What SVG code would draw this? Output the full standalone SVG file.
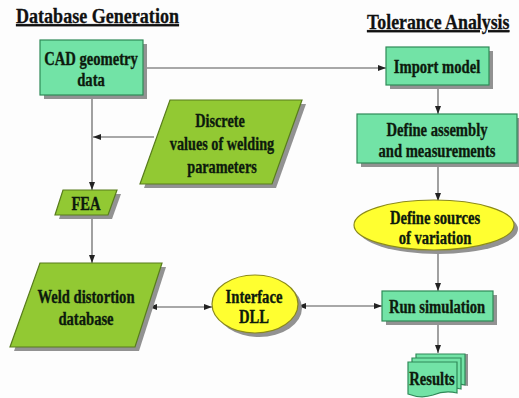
<svg xmlns="http://www.w3.org/2000/svg" width="519" height="398" viewBox="0 0 519 398">
<defs>
<marker id="arr" viewBox="0 0 8 6" refX="8" refY="3" markerWidth="8" markerHeight="6" markerUnits="userSpaceOnUse" orient="auto-start-reverse">
<path d="M0,0 L8,3 L0,6 z" fill="#222"/>
</marker>
<style>
.bg{fill:#fdfdfd}
.sh{fill:#929292;stroke:none}
.mint{fill:#72e3a6;stroke:#2f8a58;stroke-width:1.2}
.lime{fill:#92c933;stroke:#587c1c;stroke-width:1.2}
.yel{fill:#ffff30;stroke:#8b8a1a;stroke-width:1.2}
.t{font-family:'Liberation Serif','DejaVu Serif','Times New Roman',serif;font-weight:700;font-size:19px;fill:#0d1a0d;stroke:#0d1a0d;stroke-width:0.35;text-anchor:middle}
.h{font-family:'Liberation Serif','DejaVu Serif','Times New Roman',serif;font-weight:700;font-size:21px;fill:#111;stroke:#111;stroke-width:0.3;text-decoration:underline}
.c{fill:none;stroke:#555;stroke-width:1.1}
</style>
</defs>
<rect class="bg" x="0" y="0" width="519" height="398"/>

<g id="titles">
<text class="h" transform="translate(16,23) scale(0.86,1)">Database Generation</text>
<text class="h" transform="translate(367,29) scale(0.85,1)">Tolerance Analysis</text>
</g>

<g id="connectors">
<path class="c" d="M143,68 H386" marker-end="url(#arr)"/>
<path class="c" d="M438,85 V114" marker-end="url(#arr)"/>
<path class="c" d="M438,163 V201" marker-end="url(#arr)"/>
<path class="c" d="M438,250 V291" marker-end="url(#arr)"/>
<path class="c" d="M438,321 V353" marker-end="url(#arr)"/>
<path class="c" d="M92,95 V190" marker-end="url(#arr)"/>
<path class="c" d="M154,137 H93" marker-end="url(#arr)"/>
<path class="c" d="M92,215 V263" marker-end="url(#arr)"/>
<path class="c" d="M149,307 H212" marker-start="url(#arr)" marker-end="url(#arr)"/>
<path class="c" d="M298,306 H382" marker-start="url(#arr)" marker-end="url(#arr)"/>
</g>

<g id="cad">
<rect class="sh" x="44" y="44" width="103" height="55"/>
<rect class="mint" x="40" y="40" width="103" height="55"/>
<text class="t" transform="translate(91,65) scale(0.77,1)">CAD geometry</text>
<text class="t" transform="translate(91,86) scale(0.77,1)">data</text>
</g>

<g id="import">
<rect class="sh" x="390" y="51" width="103" height="38"/>
<rect class="mint" x="386" y="47" width="103" height="38"/>
<text class="t" transform="translate(437,73) scale(0.77,1)">Import model</text>
</g>

<g id="assembly">
<rect class="sh" x="361" y="118" width="160" height="49"/>
<rect class="mint" x="357" y="114" width="160" height="49"/>
<text class="t" transform="translate(437,136) scale(0.77,1)">Define  assembly</text>
<text class="t" transform="translate(437,157) scale(0.77,1)">and measurements</text>
</g>

<g id="sources">
<ellipse class="sh" cx="438" cy="229" rx="80" ry="25"/>
<ellipse class="yel" cx="434" cy="225" rx="80" ry="25"/>
<text class="t" transform="translate(435,224) scale(0.77,1)">Define sources</text>
<text class="t" transform="translate(435,244) scale(0.77,1)">of variation</text>
</g>

<g id="run">
<rect class="sh" x="386" y="295" width="111" height="30"/>
<rect class="mint" x="382" y="291" width="111" height="30"/>
<text class="t" transform="translate(437,313) scale(0.77,1)">Run simulation</text>
</g>

<g id="results">
<path class="sh" d="M420,354 H468 V386 Q456,383 444,388 Q432,392 420,387 Z"/>
<path class="mint" d="M416,354 H465 V385 Q453,382 441,387 Q429,391 416,386 Z"/>
<path class="mint" d="M412,358 H461 V389 Q449,386 437,391 Q425,395 412,390 Z"/>
<path class="mint" d="M408,362 H457 V393 Q445,390 433,395 Q421,399 408,394 Z"/>
<text class="t" transform="translate(432,385) scale(0.77,1)">Results</text>
</g>

<g id="discrete">
<polygon class="sh" points="174,104 306,104 276,188 144,188"/>
<polygon class="lime" points="170,100 302,100 272,184 140,184"/>
<text class="t" transform="translate(220,127) scale(0.75,1)">Discrete</text>
<text class="t" transform="translate(222,150) scale(0.75,1)">values of welding</text>
<text class="t" transform="translate(222,173) scale(0.75,1)">parameters</text>
</g>

<g id="fea">
<polygon class="sh" points="67,194 121,194 112,219 59,219"/>
<polygon class="lime" points="63,190 117,190 108,215 55,215"/>
<text class="t" transform="translate(86,210) scale(0.77,1)">FEA</text>
</g>

<g id="weld">
<polygon class="sh" points="44,267 166,267 139,351 14,351"/>
<polygon class="lime" points="40,263 162,263 135,347 10,347"/>
<text class="t" transform="translate(86,303) scale(0.77,1)">Weld distortion</text>
<text class="t" transform="translate(86,325) scale(0.77,1)">database</text>
</g>

<g id="interface">
<ellipse class="sh" cx="259" cy="308" rx="43" ry="29"/>
<ellipse class="yel" cx="255" cy="304" rx="43" ry="29"/>
<text class="t" transform="translate(254,303) scale(0.77,1)">Interface</text>
<text class="t" transform="translate(254,323) scale(0.77,1)">DLL</text>
</g>
</svg>
